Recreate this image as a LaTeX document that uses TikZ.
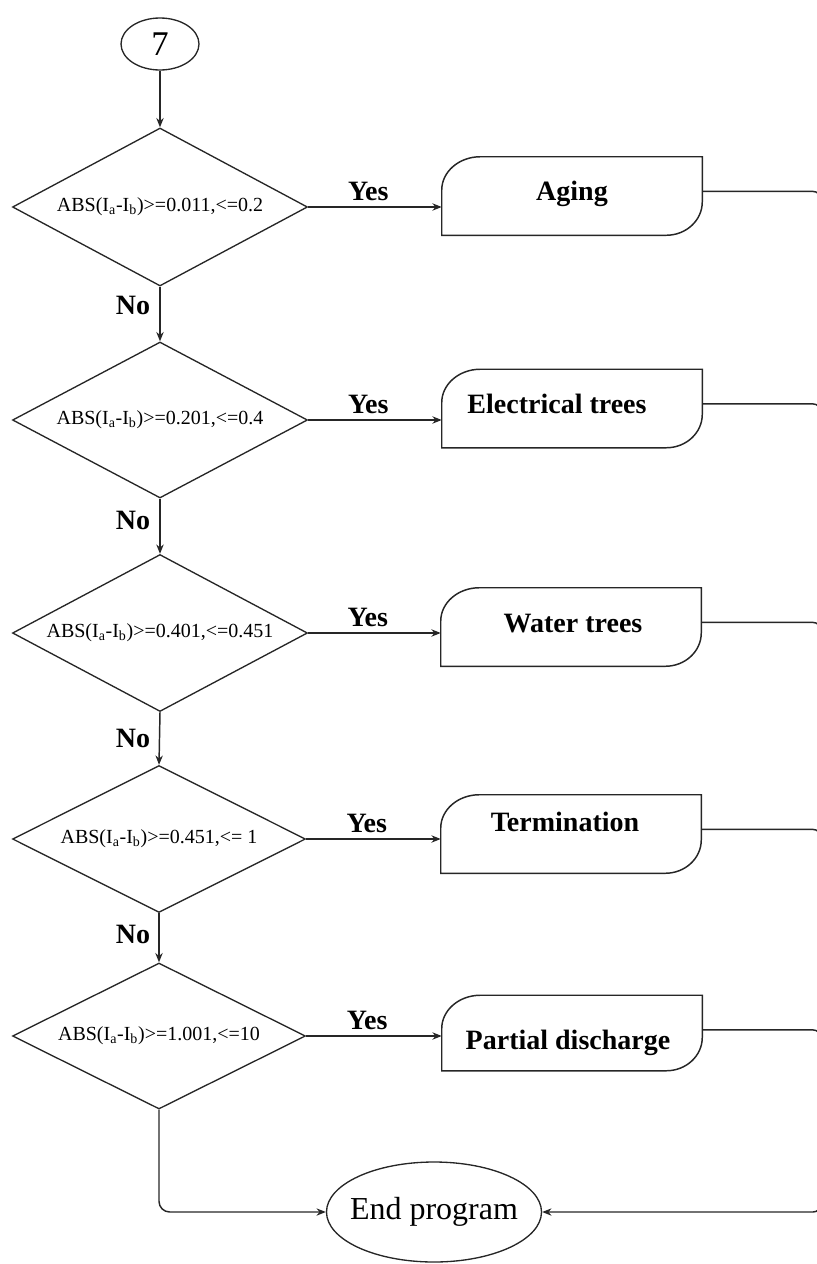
\documentclass[tikz,border=0pt]{standalone}
\usepackage{fontspec}
\setmainfont{Liberation Serif}
\usetikzlibrary{shapes.geometric,arrows.meta}
\tikzset{
  ln/.style={line width=1.1pt, draw=black!85},
  arr/.style={ln, -{Stealth[length=7pt,width=5.5pt]}},
  dec/.style={diamond, draw=black!85, line width=1pt, inner sep=0pt,
    minimum width=221.25pt, font=\fontsize{15}{17}\selectfont},
  tbox/.style={rectangle, draw=none, inner sep=0pt, minimum width=195pt, minimum height=58.5pt},
  boxtxt/.style={font=\fontsize{21}{24}\selectfont\bfseries, inner sep=0pt, anchor=base},
  lbl/.style={font=\fontsize{21}{24}\selectfont\bfseries, inner sep=0pt},
  term/.style={ellipse, draw=black!85, line width=1pt, inner sep=0pt},
}
\newcommand\tboxdraw[1]{%
  \draw[ln] (#1.south west) -- ([yshift=-25pt]#1.north west)
    arc[start angle=180, end angle=90, x radius=29pt, y radius=25pt]
    -- (#1.north east) -- ([yshift=25pt]#1.south east)
    arc[start angle=0, end angle=-90, x radius=27pt, y radius=25pt] -- cycle;}
\begin{document}
\begin{tikzpicture}[x=0.75pt, y=0.75pt]
\useasboundingbox (0,0) rectangle (817,-1264);
\clip (0,0) rectangle (817,-1264);
% start
\node[term, minimum width=58.5pt, minimum height=39pt, font=\fontsize{26}{28}\selectfont] (s) at (160,-44) {\makebox[0pt]{7}};
% decisions
\node[dec, minimum height=118.5pt]  (d1) at (160,-207)  {\makebox[0pt]{ABS(I\textsubscript{a}-I\textsubscript{b})>=0.011,<=0.2}};
\node[dec, minimum height=117pt]    (d2) at (160,-420)  {\makebox[0pt]{ABS(I\textsubscript{a}-I\textsubscript{b})>=0.201,<=0.4}};
\node[dec, minimum height=117.75pt] (d3) at (160,-633)  {\makebox[0pt]{ABS(I\textsubscript{a}-I\textsubscript{b})>=0.401,<=0.451}};
\node[dec, minimum height=110.25pt, minimum width=219.75pt] (d4) at (159,-839) {\makebox[0pt]{ABS(I\textsubscript{a}-I\textsubscript{b})>=0.451,<= 1}};
\node[dec, minimum height=109.5pt, minimum width=219.75pt]  (d5) at (159,-1036) {\makebox[0pt]{ABS(I\textsubscript{a}-I\textsubscript{b})>=1.001,<=10}};
% result boxes
\node[tbox] (b1) at (572,-196) {};
\node[tbox] (b2) at (572,-408.5) {};
\node[tbox] (b3) at (571,-627) {};
\node[tbox] (b4) at (571,-834) {};
\node[tbox, minimum height=56.25pt] (b5) at (572,-1033) {};
\foreach \b in {b1,b2,b3,b4,b5} {\tboxdraw{\b}}
\node[boxtxt] (t1) at (572,-200) {Aging};
\node[boxtxt] (t2) at (557,-413) {Electrical trees};
\node[boxtxt] (t3) at (573,-632) {Water trees};
\node[boxtxt] (t4) at (565,-831) {Termination};
\node[boxtxt] (t5) at (568,-1049) {Partial discharge};
% end
\node[term, minimum width=161.25pt, minimum height=75pt, font=\fontsize{24}{26}\selectfont] (e) at (434,-1212) {\makebox[0pt]{End program}};
% vertical flow
\draw[arr] (s) -- (d1.north);
\draw[arr] (d1.south) -- (d2.north);
\draw[arr] (d2.south) -- (d3.north);
\draw[arr] (d3.south) -- (d4.north);
\draw[arr] (d4.south) -- (d5.north);
\node[lbl] (n1) at (133,-305) {No};
\node[lbl] (n2) at (133,-520) {No};
\node[lbl] (n3) at (133,-738) {No};
\node[lbl] (n4) at (133,-934) {No};
% yes arrows
\foreach \d/\b in {d1/b1,d2/b2,d3/b3,d4/b4,d5/b5} {
  \draw[arr] (\d.east) -- node[lbl, above=4pt, pos=0.45] {Yes} (\d.east -| \b.west);
}
% outputs to end
\coordinate (bus) at (821,0);
\draw[arr, rounded corners=6pt] ([yshift=-26pt]b1.north east) -- ([yshift=-26pt]b1.north east -| bus) -- (bus |- e) -- (e.east);
\foreach \b in {b2,b3,b4,b5} {
  \draw[ln, rounded corners=6pt] ([yshift=-26pt]\b.north east) -- ([yshift=-26pt]\b.north east -| bus) -- ++(0,-20);
}
\draw[arr, rounded corners=8pt] (d5.south) -- (d5.south |- e) -- (e.west);
\end{tikzpicture}
\end{document}
